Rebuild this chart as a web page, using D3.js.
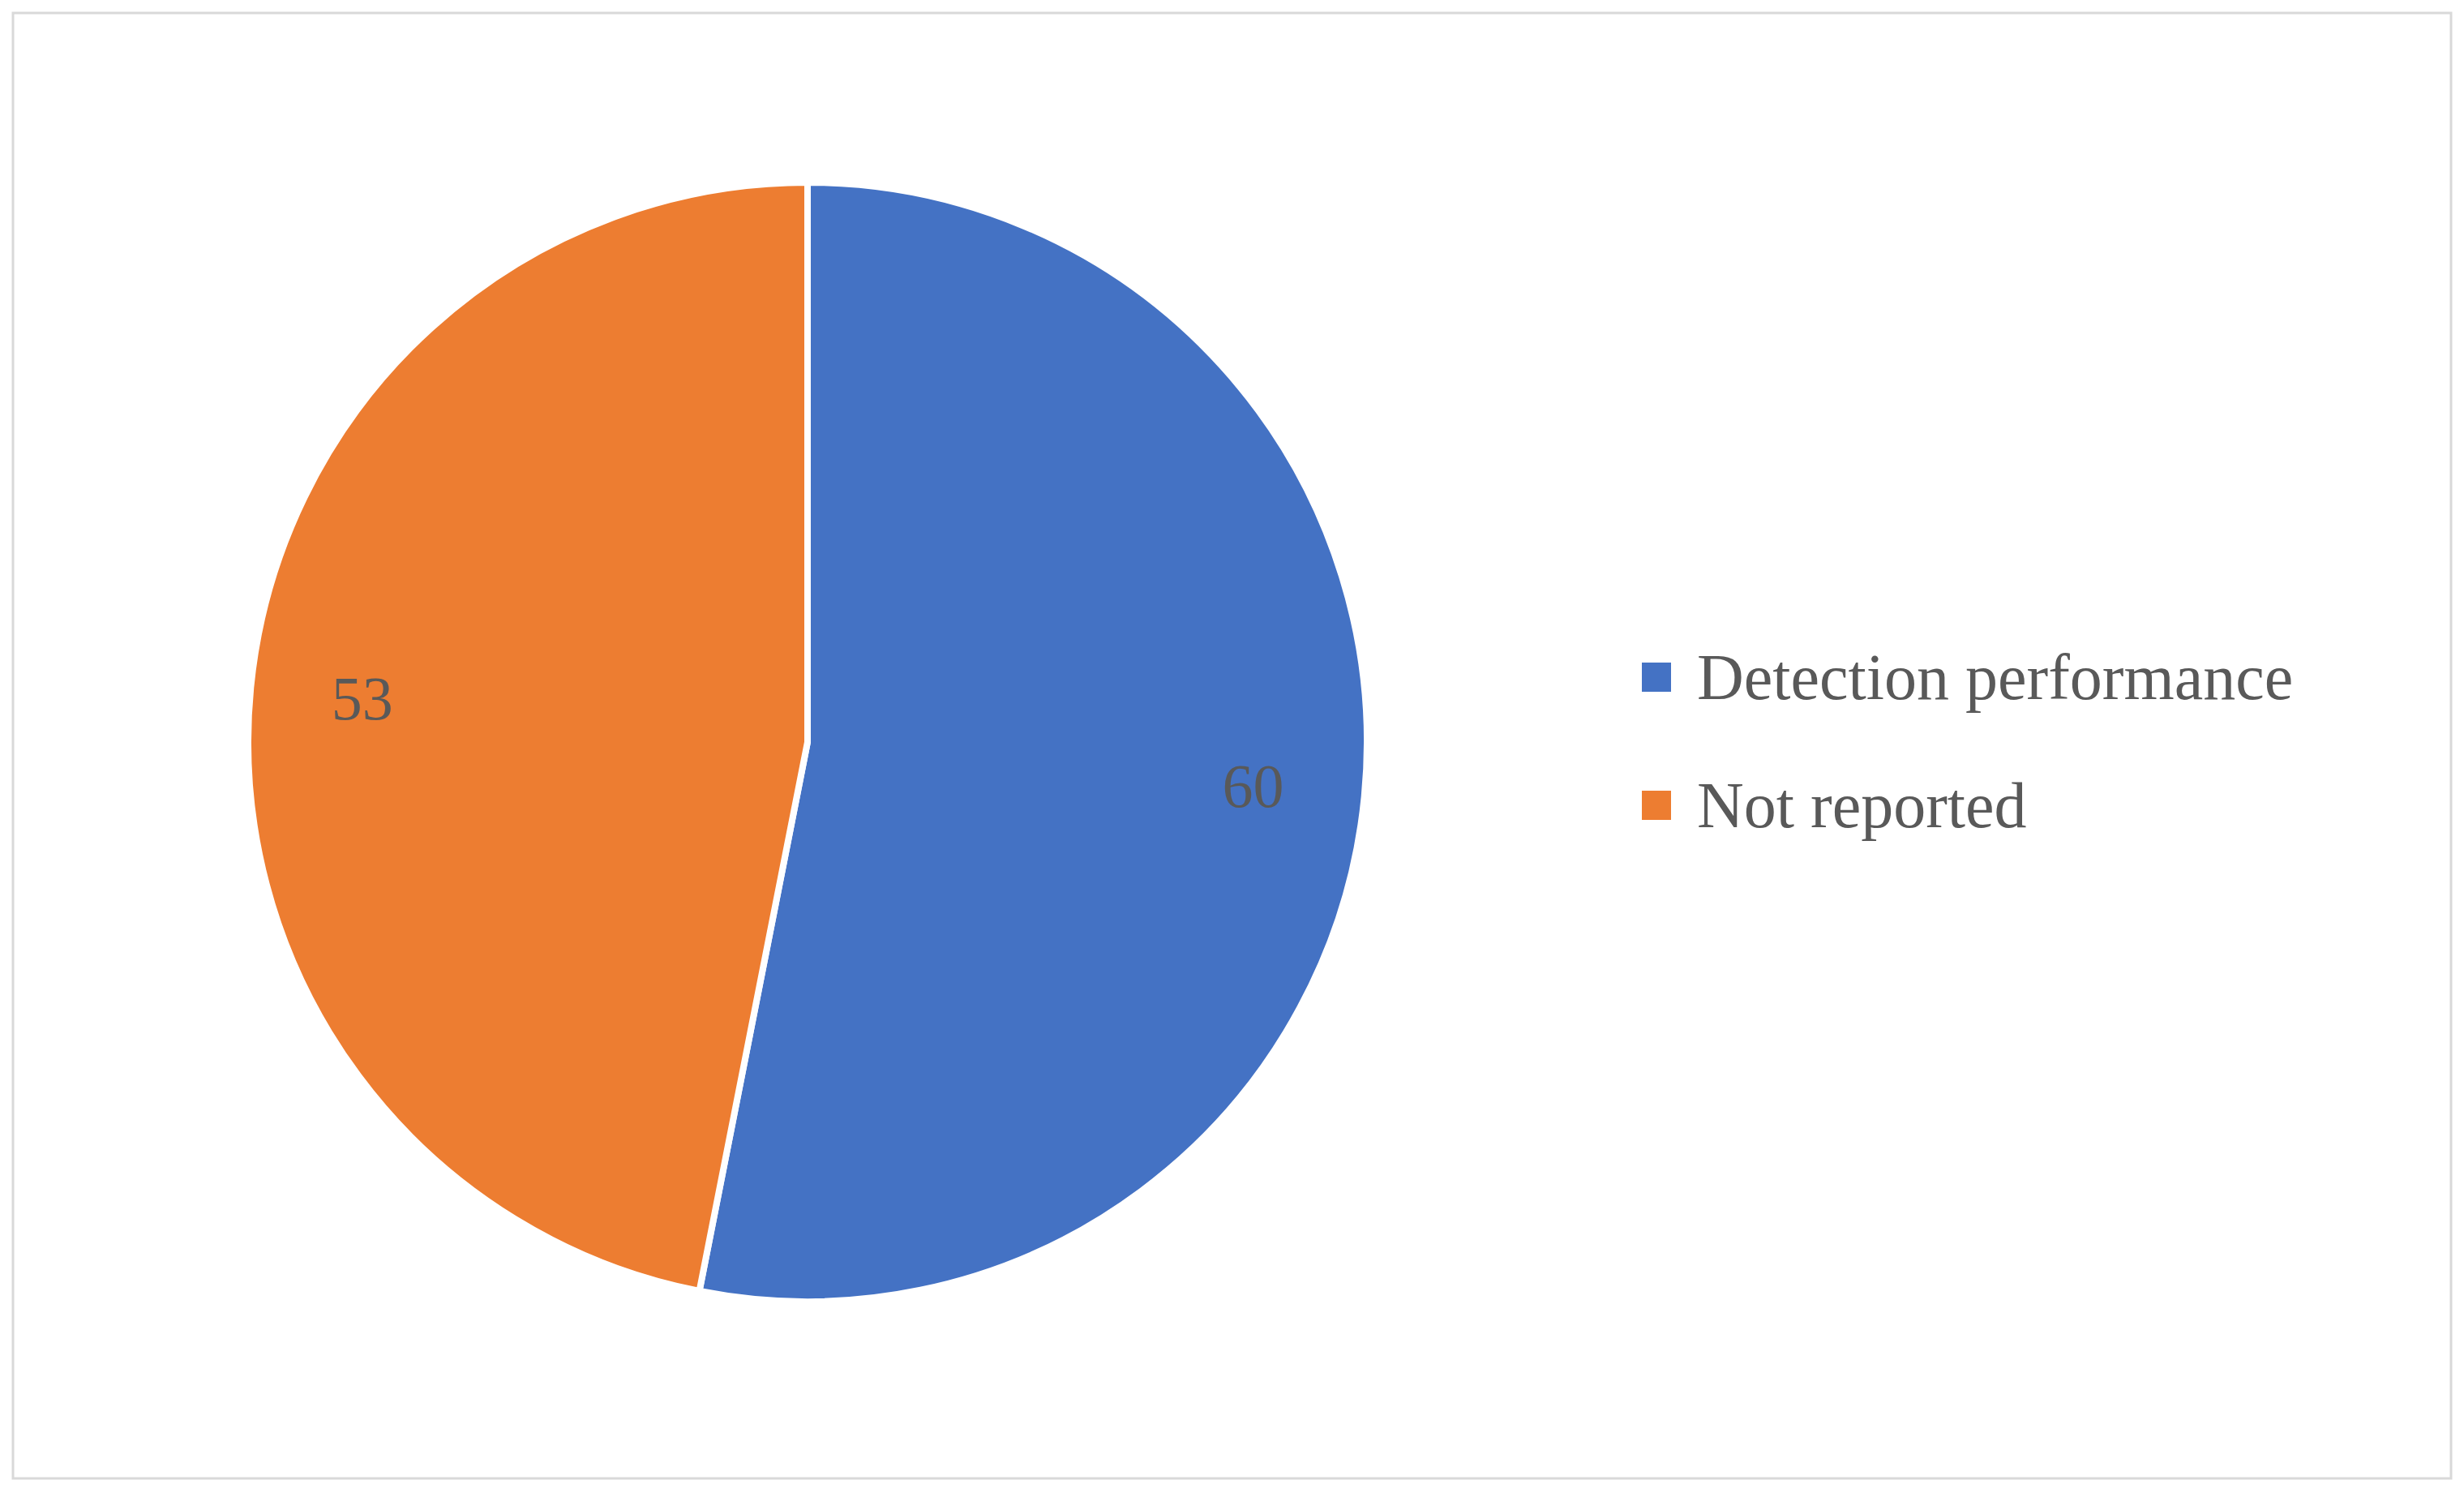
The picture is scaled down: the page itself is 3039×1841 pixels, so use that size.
<!DOCTYPE html>
<html>
<head>
<meta charset="utf-8">
<script src="https://cdn.jsdelivr.net/npm/d3@7"></script>
<style>
  body { margin: 0; background: #fff; }
  text { font-family: "Liberation Serif", "DejaVu Serif", serif; fill: #595959; }
</style>
</head>
<body>
<svg id="chart" width="3039" height="1841"></svg>
<script>
var categories = ["Detection performance", "Not reported"];
var values = [60, 53];
var colors = ["#4472C4", "#ED7D31"];

var svg = d3.select("#chart");
var width = 3039, height = 1841;

// outer frame
svg.append("rect")
    .attr("x", 16).attr("y", 16)
    .attr("width", width - 32).attr("height", height - 34)
    .attr("fill", "#fff")
    .attr("stroke", "#d9d9d9")
    .attr("stroke-width", 3);

var cx = 996, cy = 915, radius = 690;

var pie = d3.pie().sort(null).value(function(d) { return d; });
var arcs = pie(values);
var arc = d3.arc().innerRadius(0).outerRadius(radius);
var label_arc = d3.arc().innerRadius(radius * 0.8).outerRadius(radius * 0.8);

var g = svg.append("g").attr("transform", "translate(" + cx + "," + cy + ")");

g.selectAll("path.slice")
    .data(arcs)
    .enter().append("path")
    .attr("class", "slice")
    .attr("d", arc)
    .attr("fill", function(d, i) { return colors[i]; })
    .attr("stroke", "#fff")
    .attr("stroke-width", 8)
    .attr("stroke-linejoin", "round");

g.selectAll("text.value")
    .data(arcs)
    .enter().append("text")
    .attr("class", "value")
    .attr("x", function(d) { return label_arc.centroid(d)[0]; })
    .attr("y", function(d) { return label_arc.centroid(d)[1]; })
    .attr("text-anchor", "middle")
    .attr("dominant-baseline", "central")
    .attr("font-size", 76)
    .text(function(d) { return d.data; });

// legend
var legend = svg.append("g").attr("transform", "translate(2025,835)");
var items = legend.selectAll("g.item")
    .data(categories)
    .enter().append("g")
    .attr("class", "item")
    .attr("transform", function(d, i) { return "translate(0," + (i * 158) + ")"; });
items.append("rect")
    .attr("x", 0).attr("y", -18)
    .attr("width", 36).attr("height", 36)
    .attr("fill", function(d, i) { return colors[i]; });
items.append("text")
    .attr("x", 68).attr("y", 0)
    .attr("dominant-baseline", "central")
    .attr("font-size", 80)
    .text(function(d) { return d; });
</script>
</body>
</html>
